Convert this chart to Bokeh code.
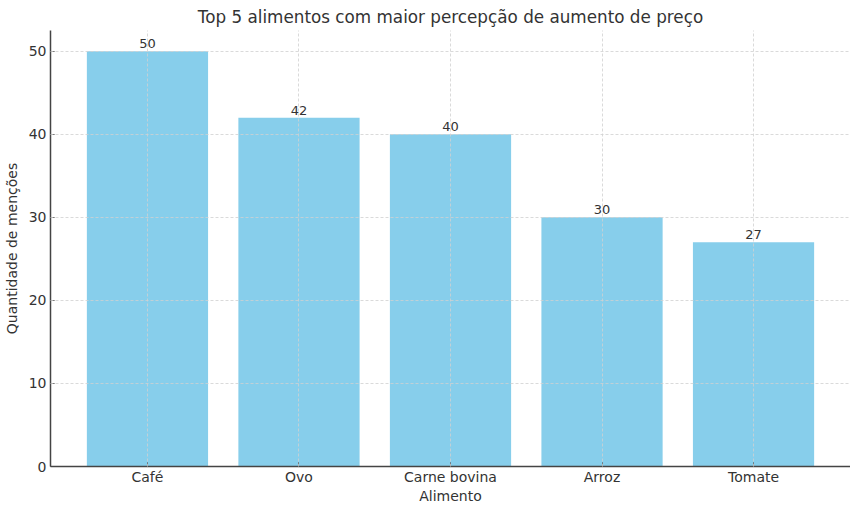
from bokeh.plotting import figure
from bokeh.models import ColumnDataSource, FactorRange, Range1d, FixedTicker
from bokeh.embed import file_html
from bokeh.resources import INLINE

categories = ["Café", "Ovo", "Carne bovina", "Arroz", "Tomate"]
values = [50, 42, 40, 30, 27]
y_ticks = [0, 10, 20, 30, 40, 50]

src = ColumnDataSource(dict(cat=categories, val=values, lbl=[str(v) for v in values]))

FONT = "DejaVu Sans"
TXT = "#333333"

p = figure(x_range=FactorRange(*categories, range_padding=0.056),
           y_range=Range1d(0, 52.5),
           frame_width=800, frame_height=436,
           output_backend="svg", toolbar_location=None,
           min_border_left=44, min_border_right=0, min_border_bottom=0, min_border_top=0,
           title="Top 5 alimentos com maior percepção de aumento de preço")

p.vbar(x="cat", top="val", width=0.8, source=src, color="#87CEEB", line_color=None)
p.text(x="cat", y="val", text="lbl", source=src, text_align="center", text_baseline="bottom",
       y_offset=-3, text_font_size="13px", text_color=TXT, text_font={"value": FONT})

p.title.align = "center"
p.title.text_font = FONT
p.title.text_font_size = "16.8px"
p.title.text_font_style = "normal"
p.title.text_color = TXT
p.title.standoff = 8

p.outline_line_color = None
for g in (p.xgrid, p.ygrid):
    g.grid_line_color = "#d0d0d0"
    g.grid_line_dash = "3 2"
    g.grid_line_width = 0.8
    g.level = "annotation"
p.ygrid.ticker = FixedTicker(ticks=y_ticks)
p.yaxis.ticker = FixedTicker(ticks=y_ticks)

for ax in (p.xaxis, p.yaxis):
    ax.axis_line_color = "#444444"
    ax.axis_line_width = 1.5
    ax.major_tick_line_color = "#444444"
    ax.major_tick_in = 4
    ax.major_tick_out = 0
    ax.minor_tick_line_color = None
    ax.major_label_text_font = FONT
    ax.major_label_text_font_size = "14px"
    ax.major_label_text_color = TXT
    ax.axis_label_text_font = FONT
    ax.axis_label_text_font_size = "14px"
    ax.axis_label_text_font_style = "normal"
    ax.axis_label_text_color = TXT
p.xaxis.axis_label = "Alimento"
p.yaxis.axis_label = "Quantidade de menções"
p.xaxis.major_label_standoff = 2
p.xaxis.axis_label_standoff = 0
p.yaxis.major_label_standoff = 4
p.yaxis.axis_label_standoff = 6

open("out.html", "w").write(file_html(p, INLINE))
